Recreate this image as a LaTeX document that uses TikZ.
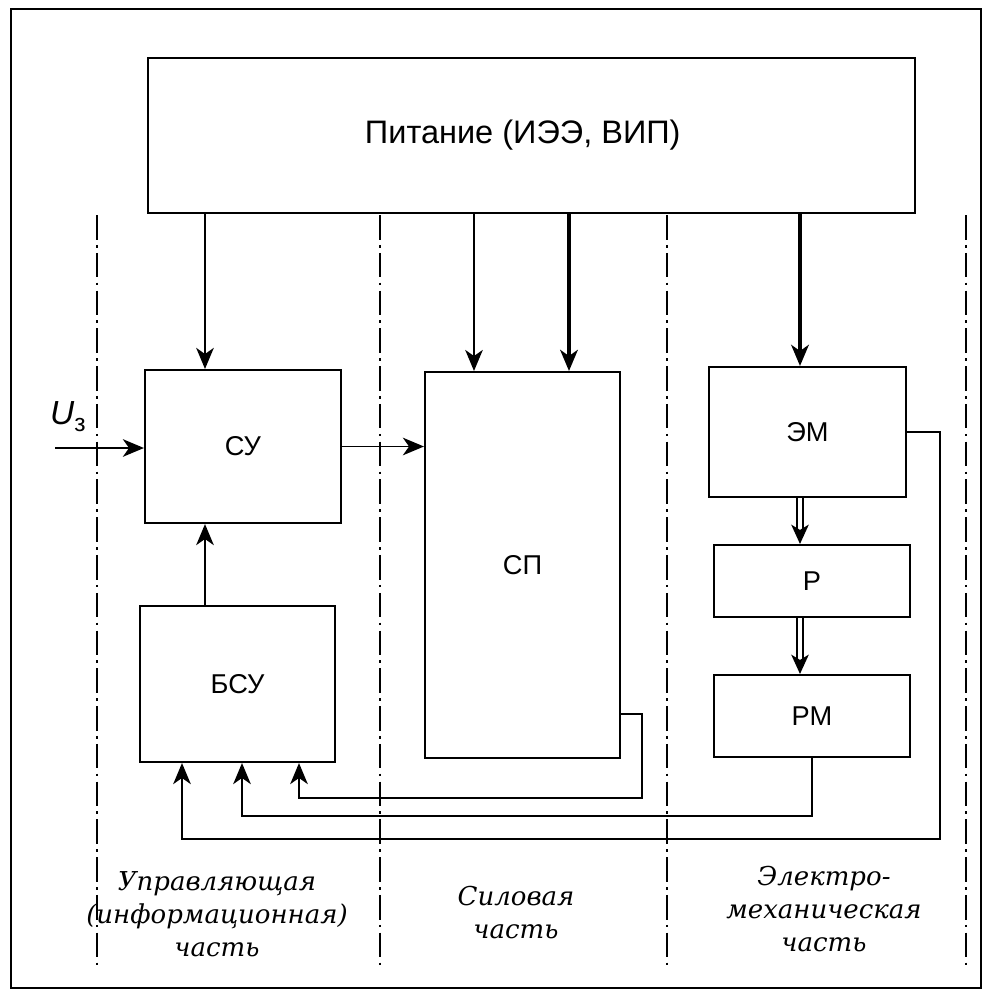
\documentclass[tikz,border=0pt]{standalone}
\usepackage{fontspec}
\setmainfont{DejaVu Serif}
\setsansfont{Liberation Sans}
\usetikzlibrary{arrows.meta,positioning,calc}
\tikzset{
  blockbox/.style={
    rectangle, draw, line width=1.2pt, inner sep=0pt,
    font=\sffamily\fontsize{15.5}{18}\selectfont
  },
  flowarrow/.style={
    -{Stealth[length=12pt,width=10pt,inset=3.5pt]}, line width=1.1pt
  },
  powerarrow/.style={
    -{Stealth[length=12pt,width=10pt,inset=3.5pt]}, line width=2.8pt
  },
  shaftarrow/.style={
    -{Stealth[length=11pt,width=10pt,inset=3pt]}, double, double distance=2.8pt, line width=0.9pt
  },
  zoneline/.style={
    line width=0.8pt, dash pattern=on 14pt off 3pt on 1.5pt off 3pt
  },
  partlabel/.style={
    font=\itshape\fontsize{14.8}{18.8}\selectfont, align=center
  },
}
\begin{document}
\begin{tikzpicture}[x=0.02cm,y=-0.02cm]
  \useasboundingbox (0,0) rectangle (986,995);
  \draw[line width=1.6pt] (11,9) rectangle (981,988);

  % Zones
  \foreach \x in {97,380,667,966}
    \draw[zoneline] (\x,215) -- (\x,965);

  % Nodes
  \node[blockbox, minimum width=15.34cm, minimum height=3.1cm,
        font=\sffamily\fontsize{18.5}{20}\selectfont] (pit) at (531.5,135.5) {Питание (ИЭЭ, ВИП)\hspace*{0.35cm}};
  \node[blockbox, minimum width=3.92cm, minimum height=3.06cm] (su) at (243,446.5) {СУ};
  \node[blockbox, minimum width=3.9cm, minimum height=3.12cm] (bsu) at (237.5,684) {БСУ};
  \node[blockbox, minimum width=3.9cm, minimum height=7.72cm] (sp) at (522.5,565) {СП};
  \node[blockbox, minimum width=3.94cm, minimum height=2.6cm] (em) at (807.5,432) {ЭМ};
  \node[blockbox, minimum width=3.92cm, minimum height=1.44cm] (rd) at (812,581) {Р};
  \node[blockbox, minimum width=3.92cm, minimum height=1.64cm] (rm) at (812,716) {РМ};

  \coordinate (suin) at ($(su.north)+(-38,0)$);
  \coordinate (spin) at ($(sp.north)+(-48.5,0)$);
  \coordinate (spfeed) at ($(sp.north)+(46.5,0)$);
  \coordinate (emin) at ($(em.north)+(-7.5,0)$);
  \coordinate (uzin) at (55,448);

  % Arrows
  \draw[flowarrow] (pit.south -| suin) -- (suin);
  \draw[flowarrow] (pit.south -| spin) -- (spin);
  \draw[powerarrow] (pit.south -| spfeed) -- (spfeed);
  \draw[powerarrow] (pit.south -| emin) -- (emin);
  \draw[flowarrow] (uzin) -- (uzin -| su.west);
  \draw[flowarrow] (su.east) -- (su.east -| sp.west);
  \draw[flowarrow] (bsu.north -| suin) -- (su.south -| suin);
  \draw[shaftarrow] (em.south -| emin) -- (rd.north -| emin);
  \draw[shaftarrow] (rd.south -| emin) -- (rm.north -| emin);

  % Feedback
  \draw[flowarrow] ($(sp.east)+(0,149)$) -| ($(sp.east)+(21,233)$) -| ($(bsu.south)+(61.5,0)$);
  \draw[flowarrow] (rm.south) -- ++(0,58) -| ($(bsu.south)+(4.5,0)$);
  \draw[flowarrow] (em.east) -| ($(em.east)+(33,407)$) -| ($(bsu.south)+(-55.5,0)$);

  % Labels
  \node[font=\sffamily\fontsize{19}{20}\selectfont, anchor=south] (uz) at (68,438)
    {\textit{U}\raisebox{-4pt}{\fontsize{14}{15}\selectfont з}};
  \node[partlabel] (ctrl) at (217,914) {Управляющая\\(информационная)\\часть};
  \node[partlabel] (power) at (516,913) {Силовая\\часть};
  \node[partlabel] (mech) at (824,909) {Электро-\\механическая\\часть};
\end{tikzpicture}
\end{document}
